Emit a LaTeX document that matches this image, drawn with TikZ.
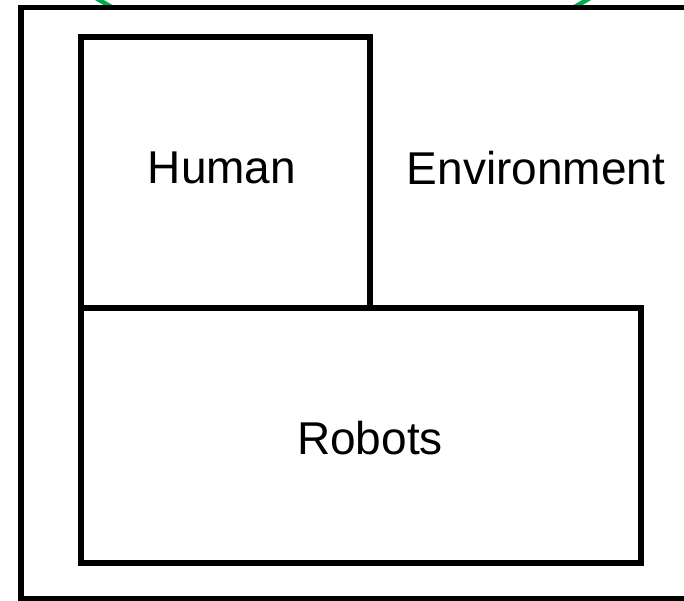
\documentclass[tikz,border=0pt]{standalone}
\usepackage{fontspec}
\setmainfont{Liberation Sans}
\definecolor{arcgreen}{RGB}{0,170,80}
\begin{document}
\begin{tikzpicture}[x=1pt,y=-1pt,
  box/.style={draw=black,line width=5.5pt,fill=white,inner sep=0pt,outer sep=0pt,anchor=north west},
  lbl/.style={font=\fontsize{46}{50}\selectfont,inner sep=0pt}]
\useasboundingbox (0,0) rectangle (684,600);
\clip (0,0) rectangle (684,600);
\draw[arcgreen,line width=4.5pt] (343,-409) circle[radius=476];
\node[box,minimum width=740pt,minimum height=591pt] (env) at (21,7.5) {};
\node[box,minimum width=289pt,minimum height=271pt] (human) at (81,37) {};
\node[box,minimum width=560pt,minimum height=255pt] (robots) at (81,308) {};
\node[lbl] (htext) at (222,168) {Human};
\node[lbl] (etext) at (536,168) {Environment};
\node[lbl] (rtext) at (370,438) {Robots};
\end{tikzpicture}
\end{document}
